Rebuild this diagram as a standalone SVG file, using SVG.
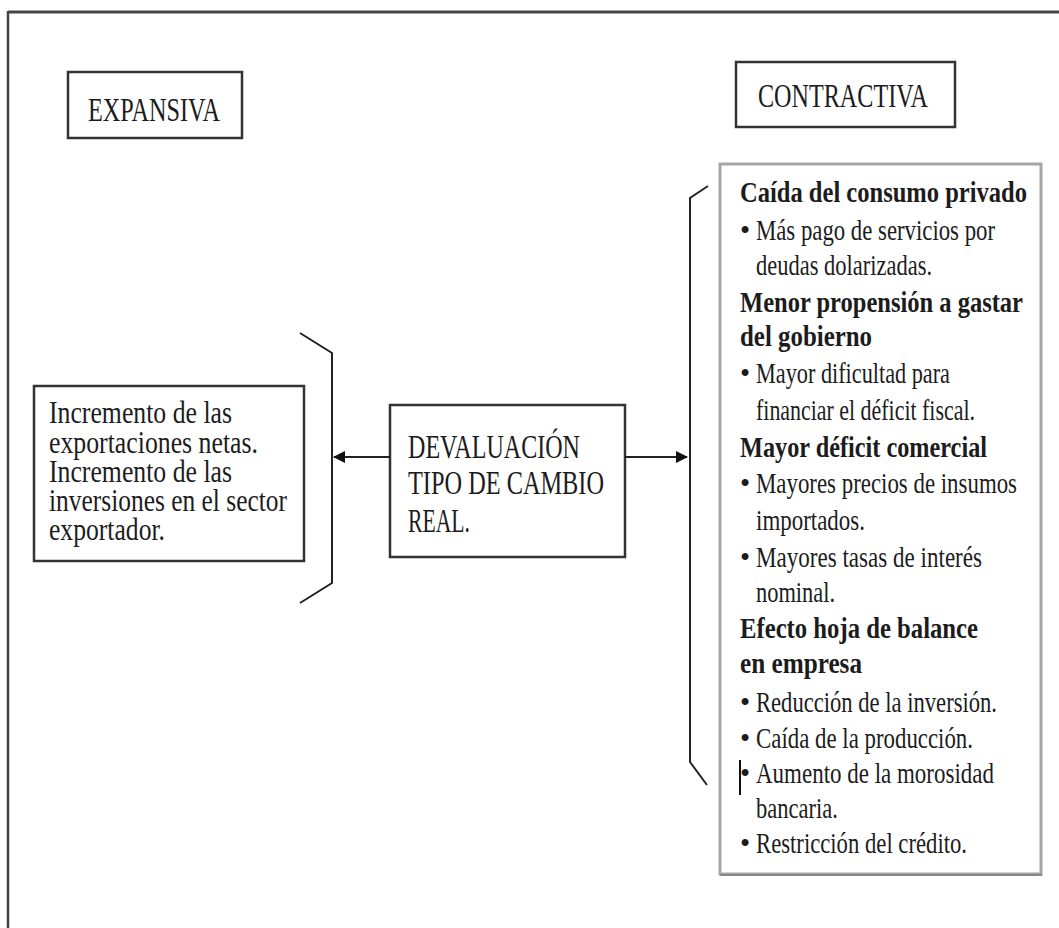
<svg xmlns="http://www.w3.org/2000/svg" width="1059" height="928" viewBox="0 0 1059 928">
<style>
.t{font-family:"Liberation Serif","DejaVu Serif",serif;fill:#1c1c1c}
.r{font-size:29px}
.b{font-size:30px;font-weight:bold}
.m{font-size:34px}
.s{font-size:31px}
.box{fill:#fff;stroke:#333;stroke-width:2.5}
.conn{fill:none;stroke:#222;stroke-width:2}
</style>
<defs>
<marker id="ah" viewBox="0 0 12 12" refX="11" refY="6" markerWidth="12" markerHeight="12" markerUnits="userSpaceOnUse" orient="auto">
<path d="M0,0 L12,6 L0,12 Z" fill="#111"/>
</marker>
</defs>
<rect width="1059" height="928" fill="#fff"/>
<g id="frame">
<line x1="8" y1="12" x2="1059" y2="12" stroke="#444" stroke-width="3"/>
<line x1="8" y1="11" x2="8" y2="928" stroke="#444" stroke-width="2.5"/>
</g>
<g id="expansiva">
<rect class="box" x="68" y="72" width="174" height="66"/>
<text class="t m" x="88" y="121" textLength="132" lengthAdjust="spacingAndGlyphs">EXPANSIVA</text>
</g>
<g id="contractiva">
<rect class="box" x="736" y="62" width="219" height="65"/>
<text class="t m" x="758" y="107" textLength="170" lengthAdjust="spacingAndGlyphs">CONTRACTIVA</text>
</g>
<g id="efectos-expansivos">
<rect class="box" x="34" y="386" width="270" height="175"/>
<text class="t s" x="49" y="423" textLength="183" lengthAdjust="spacingAndGlyphs">Incremento de las</text>
<text class="t s" x="49" y="453" textLength="209" lengthAdjust="spacingAndGlyphs">exportaciones netas.</text>
<text class="t s" x="49" y="482" textLength="183" lengthAdjust="spacingAndGlyphs">Incremento de las</text>
<text class="t s" x="49" y="511" textLength="238" lengthAdjust="spacingAndGlyphs">inversiones en el sector</text>
<text class="t s" x="49" y="540" textLength="116" lengthAdjust="spacingAndGlyphs">exportador.</text>
</g>
<g id="devaluacion">
<rect class="box" x="390" y="405" width="235" height="152"/>
<text class="t m" x="408" y="458" textLength="172" lengthAdjust="spacingAndGlyphs">DEVALUACIÓN</text>
<text class="t m" x="408" y="494" textLength="196" lengthAdjust="spacingAndGlyphs">TIPO DE CAMBIO</text>
<text class="t m" x="408" y="532" textLength="62" lengthAdjust="spacingAndGlyphs">REAL.</text>
</g>
<g id="efectos-contractivos">
<rect x="720" y="164" width="321" height="710" fill="#fff" stroke="#a6a6a6" stroke-width="3"/>
<line x1="720" y1="875" x2="1042" y2="875" stroke="#777" stroke-width="1.5"/>
<text class="t b" x="740" y="202" textLength="287" lengthAdjust="spacingAndGlyphs">Caída del consumo privado</text>
<text class="t r" x="740" y="240">•</text>
<text class="t r" x="756" y="240" textLength="239" lengthAdjust="spacingAndGlyphs">Más pago de servicios por</text>
<text class="t r" x="756" y="275" textLength="176" lengthAdjust="spacingAndGlyphs">deudas dolarizadas.</text>
<text class="t b" x="740" y="312" textLength="283" lengthAdjust="spacingAndGlyphs">Menor propensión a gastar</text>
<text class="t b" x="740" y="346" textLength="132" lengthAdjust="spacingAndGlyphs">del gobierno</text>
<text class="t r" x="740" y="383">•</text>
<text class="t r" x="756" y="383" textLength="194" lengthAdjust="spacingAndGlyphs">Mayor dificultad para</text>
<text class="t r" x="756" y="420" textLength="219" lengthAdjust="spacingAndGlyphs">financiar el déficit fiscal.</text>
<text class="t b" x="740" y="457" textLength="247" lengthAdjust="spacingAndGlyphs">Mayor déficit comercial</text>
<text class="t r" x="740" y="493">•</text>
<text class="t r" x="756" y="493" textLength="261" lengthAdjust="spacingAndGlyphs">Mayores precios de insumos</text>
<text class="t r" x="756" y="530" textLength="109" lengthAdjust="spacingAndGlyphs">importados.</text>
<text class="t r" x="740" y="567">•</text>
<text class="t r" x="756" y="567" textLength="226" lengthAdjust="spacingAndGlyphs">Mayores tasas de interés</text>
<text class="t r" x="756" y="602" textLength="79" lengthAdjust="spacingAndGlyphs">nominal.</text>
<text class="t b" x="740" y="638" textLength="238" lengthAdjust="spacingAndGlyphs">Efecto hoja de balance</text>
<text class="t b" x="740" y="673" textLength="122" lengthAdjust="spacingAndGlyphs">en empresa</text>
<text class="t r" x="740" y="712">•</text>
<text class="t r" x="756" y="712" textLength="241" lengthAdjust="spacingAndGlyphs">Reducción de la inversión.</text>
<text class="t r" x="740" y="748">•</text>
<text class="t r" x="756" y="748" textLength="217" lengthAdjust="spacingAndGlyphs">Caída de la producción.</text>
<text class="t r" x="740" y="783">•</text>
<text class="t r" x="756" y="783" textLength="238" lengthAdjust="spacingAndGlyphs">Aumento de la morosidad</text>
<text class="t r" x="756" y="818" textLength="82" lengthAdjust="spacingAndGlyphs">bancaria.</text>
<text class="t r" x="740" y="853">•</text>
<text class="t r" x="756" y="853" textLength="211" lengthAdjust="spacingAndGlyphs">Restricción del crédito.</text>
<line x1="740" y1="760" x2="740" y2="795" stroke="#111" stroke-width="2"/>
</g>
<g id="connectors">
<polyline class="conn" points="300,333 332,353 332,583 300,603" stroke="#666"/>
<polyline class="conn" points="708,186 690,198 690,762 707,785"/>
<line class="conn" x1="390" y1="457" x2="334" y2="457" marker-end="url(#ah)"/>
<line class="conn" x1="625" y1="457" x2="687" y2="457" marker-end="url(#ah)"/>
</g>
</svg>
